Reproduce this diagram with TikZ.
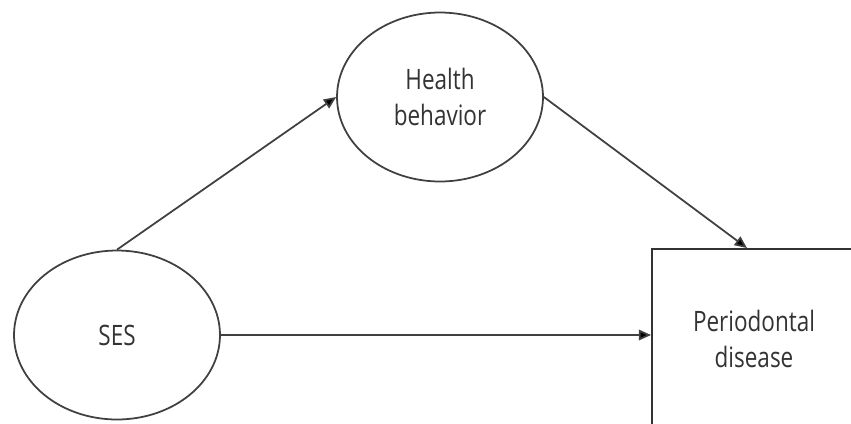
\documentclass[tikz,border=0pt]{standalone}
\usepackage{fontspec}
\setmainfont[FakeStretch=0.8]{Open Sans}
\usetikzlibrary{shapes.geometric,arrows.meta}
\tikzset{
  latent/.style={ellipse,draw=black!75,line width=1pt,minimum width=4.12cm,minimum height=3.38cm,inner sep=0pt,align=center,font=\fontsize{16}{20}\selectfont,text=black!80},
  outcome/.style={rectangle,draw=black!80,line width=1.1pt,minimum width=4.08cm,minimum height=3.6cm,inner sep=0pt,align=center,font=\fontsize{16}{20}\selectfont,text=black!80},
  path/.style={draw=black!75,line width=1pt,-{Triangle[length=7pt,width=6pt,fill=black]}}
}
\begin{document}
\begin{tikzpicture}[x=0.02cm,y=-0.02cm]
	\useasboundingbox (0,0) rectangle (851,423);
	\clip (0,0) rectangle (851,423);
	\fill[white] (0,0) rectangle (851,423);
	\node[latent] (ses) at (117,335) {SES};
	\node[latent] (hb) at (440,97) {Health\\behavior};
	\node[outcome] (pd) at (754,339) {Periodontal\\disease};
	\draw[path] (ses.north) -- (hb.west);
	\draw[path] (hb.east) -- ([xshift=-0.14cm]pd.north);
	\draw[path] (ses.east) -- (ses.east -| pd.west);
\end{tikzpicture}
\end{document}
